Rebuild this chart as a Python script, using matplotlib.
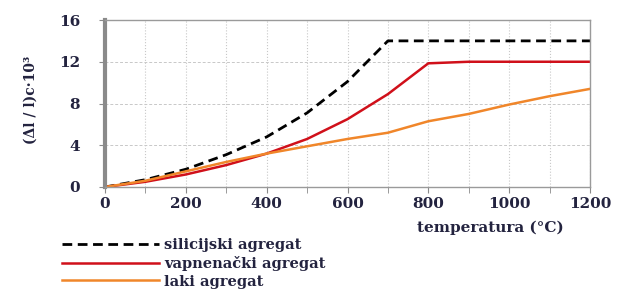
import numpy as np
import matplotlib.pyplot as plt
from matplotlib.ticker import MultipleLocator

temp = [0, 100, 200, 300, 400, 500, 600, 700, 800, 900, 1000, 1100, 1200]
silicijski = [0, 0.7, 1.7, 3.1, 4.8, 7.1, 10.1, 14.0, 14.0, 14.0, 14.0, 14.0, 14.0]
vapnenacki = [0, 0.5, 1.2, 2.1, 3.2, 4.6, 6.5, 8.9, 11.85, 12.0, 12.0, 12.0, 12.0]
laki = [0, 0.6, 1.5, 2.4, 3.2, 3.9, 4.6, 5.2, 6.3, 7.0, 7.9, 8.7, 9.4]

plt.rcParams['font.family'] = ['DejaVu Serif']
plt.rcParams['font.weight'] = 'bold'
txtc = '#23233f'

fig = plt.figure(figsize=(6.18, 2.89), dpi=100)
ax = fig.add_axes([105/618, 1-187/289, 485/618, 167/289])

ax.plot(temp, silicijski, color='black', lw=2, ls=(0, (3.5, 2)), label='silicijski agregat')
ax.plot(temp, vapnenacki, color='#d0101a', lw=1.8, label='vapnenački agregat')
ax.plot(temp, laki, color='#f0862a', lw=1.8, label='laki agregat')

ax.set_xlim(0, 1200)
ax.set_ylim(0, 16)
ax.xaxis.set_major_locator(MultipleLocator(200))
ax.xaxis.set_minor_locator(MultipleLocator(100))
ax.yaxis.set_major_locator(MultipleLocator(4))
ax.grid(True, which='both', axis='x', color='#c8c8c8', ls=':', lw=0.8)
ax.grid(True, which='major', axis='y', color='#c8c8c8', ls=(0, (3, 2)), lw=0.7)
for s in ['top', 'right', 'bottom']:
    ax.spines[s].set_color('#9a9a9a')
    ax.spines[s].set_linewidth(1)
ax.spines['left'].set_color('#8a8a8a')
ax.spines['left'].set_linewidth(3)
ax.tick_params(which='both', colors='#8a8a8a', labelcolor=txtc, labelsize=11, length=4)
ax.tick_params(axis='y', pad=14)

fig.text(31/618, 1-100/289, '(Δl / l)c·10³', rotation=90, ha='center', va='center',
         fontsize=10, color=txtc, fontweight='bold')
fig.text(490/618, 1-228/289, 'temperatura (°C)', ha='center', va='center',
         fontsize=11, color=txtc, fontweight='bold')

ax.legend(loc='upper left', bbox_to_anchor=(55/618, 1-231/289), bbox_transform=fig.transFigure,
          frameon=False, fontsize=10.5, handlelength=6.6, handletextpad=0.4,
          labelspacing=0.25, borderpad=0, labelcolor=txtc)

fig.savefig('out.png', dpi=100)
